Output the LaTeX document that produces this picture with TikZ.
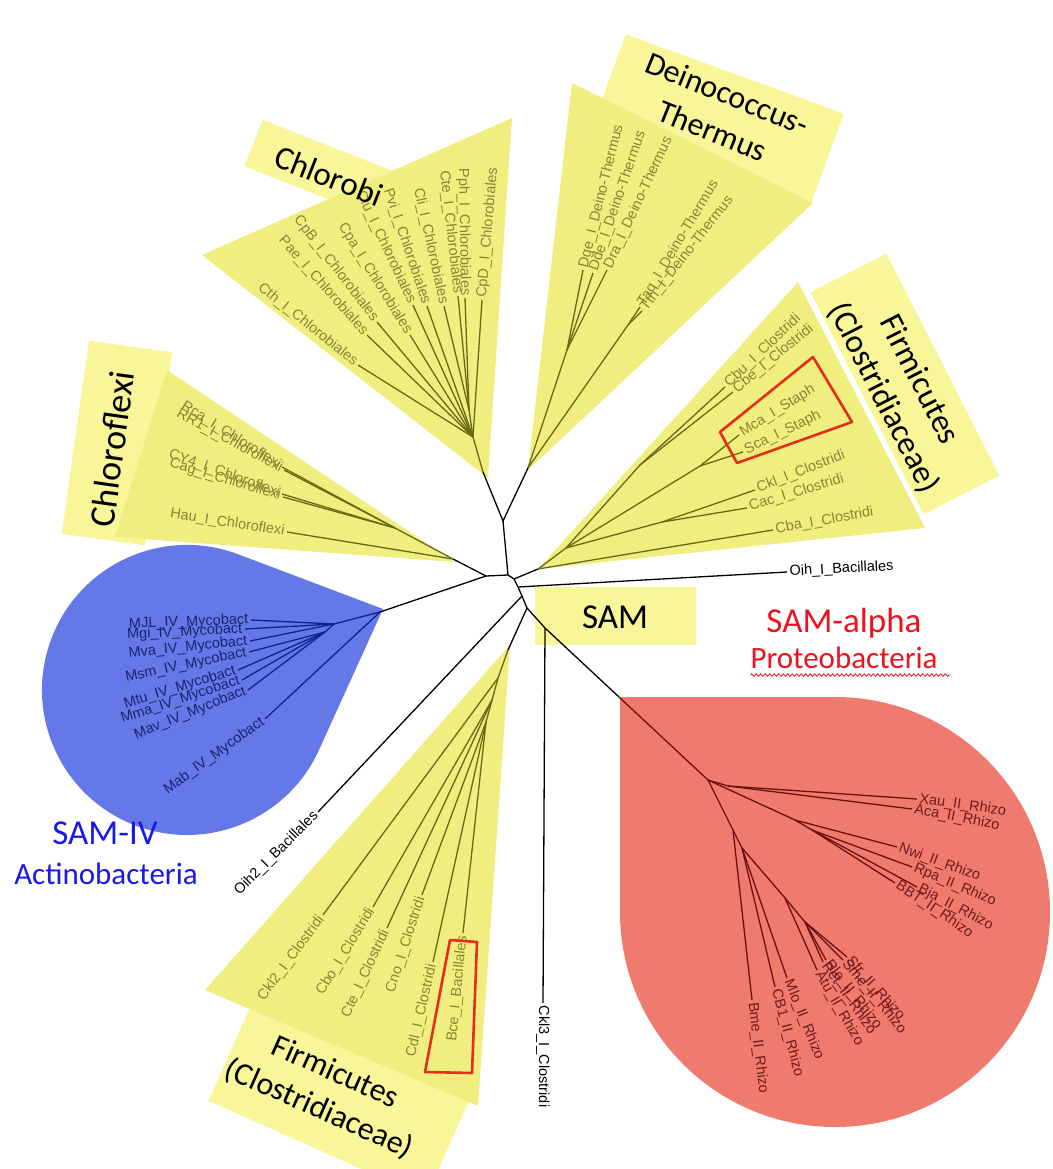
\documentclass[tikz,border=0pt]{standalone}
\usepackage{fontspec}
\setmainfont{Carlito}
\newfontfamily\leaffont{Liberation Sans}
\usetikzlibrary{decorations.pathmorphing}
\definecolor{fanY}{RGB}{241,238,128}
\definecolor{boxY}{RGB}{248,246,152}
\definecolor{oliveLn}{RGB}{105,105,20}
\definecolor{oliveTx}{RGB}{135,135,50}
\definecolor{blueF}{RGB}{100,120,232}
\definecolor{blueLn}{RGB}{15,35,140}
\definecolor{blueTx}{RGB}{25,35,110}
\definecolor{redF}{RGB}{239,122,110}
\definecolor{redLn}{RGB}{110,15,15}
\definecolor{redTx}{RGB}{115,25,25}
\definecolor{samBlue}{RGB}{25,25,235}
\definecolor{samRed}{RGB}{235,20,30}
\definecolor{hlRed}{RGB}{230,45,25}
\tikzset{
  lnk/.style={line width=1.3pt, draw=black},
  lbl/.style={font=\leaffont\fontsize{14.5}{16}\selectfont, inner sep=2.5pt, text=black},
  ybox/.style={fill=boxY, draw=none, inner sep=0pt},
  fanshape/.style={fill=fanY, draw=none},
  bigtxt/.style={align=center, inner sep=0pt, text=black},
  hlbox/.style={draw=hlRed, line width=2.6pt, line join=round},
}
\newcommand\tleaf[6]{\coordinate (#1) at (#2); \draw[lnk] (#3) -- (#1); \node[lbl, anchor=#4, rotate=#5] (t#1) at (#1) {#6};}
\begin{document}
\begin{tikzpicture}[x=1pt,y=-1pt]
\useasboundingbox (0,0) rectangle (1052,1169);
\clip (0,0) rectangle (1052,1169);
\fill[white] (0,0) rectangle (1052,1169);

% ---- label boxes ----
\node[ybox, minimum width=158pt, minimum height=50pt, rotate=-21.5] (bxChlorobi) at (327,172) {};
\node[ybox, minimum width=232pt, minimum height=98pt, rotate=-20] (bxDeino) at (718,120) {};
\node[ybox, minimum width=249pt, minimum height=85pt, rotate=-63] (bxFirmR) at (905,384) {};
\node[ybox, minimum width=195pt, minimum height=84pt, rotate=82] (bxChloroflexi) at (117,443) {};
\node[ybox, minimum width=161pt, minimum height=58pt] (bxSAM) at (615,616) {};
\node[ybox, minimum width=238pt, minimum height=112pt, rotate=-24] (bxFirmB) at (340,1098) {};

% ---- fans ----
\fill[fanshape] (202,255) -- (512,118) -- (488,478) -- cycle;
\fill[fanshape] (572,83) -- (813,203) -- (528,470) -- cycle;
\fill[fanshape] (538,569) -- (798,282) -- (925,528) -- cycle;
\fill[fanshape] (167,370) -- (115,537) -- (455,562) -- cycle;
\fill[fanshape] (510,645) -- (205,990) -- (478,1106) -- cycle;

% ---- blue and red clades ----
\fill[blueF] (383,609) -- (238.2,554.3) arc[start angle=-69.32, end angle=-335.58, radius=145] -- cycle;
\fill[redF] (620,697) -- (835,697) arc[start angle=-90, end angle=180, radius=215] -- cycle;

% ---- backbone ----
\coordinate (NT) at (503,521);
\coordinate (CB) at (483,472);
\coordinate (DB) at (528,468);
\coordinate (C0) at (508,575);
\coordinate (NL) at (486,576);
\coordinate (FX) at (453,559);
\coordinate (BN0) at (380,612);
\coordinate (C1) at (514,579);
\coordinate (FR0) at (538,569);
\coordinate (C2) at (518,587);
\coordinate (C3) at (522,596);
\coordinate (C4) at (527,608);
\coordinate (FB) at (508,650);
\coordinate (K3) at (545,628);
\coordinate (RE) at (619,697);
\coordinate (R0) at (708,780);
\draw[lnk] (CB) -- (NT) -- (DB);
\draw[lnk] (NT) -- (C0) -- (NL) -- (FX);
\draw[lnk] (NL) -- (BN0);
\draw[lnk] (C0) -- (C1) -- (C2) -- (C3) -- (C4) -- (K3) -- (RE);
\draw[lnk] (C1) -- (FR0);
\draw[lnk] (C4) -- (FB);
\draw[lnk, draw=redLn] (RE) -- (R0);

\tleaf{Oih}{787,572}{C2}{west}{3}{Oih\_I\_Bacillales}
\tleaf{Oih2}{318,812}{C3}{east}{45}{Oih2\_I\_Bacillales}
\tleaf{Ckl3}{543,1003}{K3}{west}{-90}{Ckl3\_I\_Clostridi}

% ---- yellow clades ----
\begin{scope}[lnk/.append style={draw=oliveLn}, lbl/.append style={text=oliveTx}]
% Chlorobi
\coordinate (Cn1) at (473,437);
\coordinate (Cn2) at (469,410);
\draw[lnk] (CB) -- (Cn1) -- (Cn2);
\tleaf{hCth}{358,365}{Cn1}{east}{-38.7}{Cth\_I\_Chlorobiales}
\tleaf{hPae}{367,335}{Cn1}{east}{-48.4}{Pae\_I\_Chlorobiales}
\tleaf{hCpB}{377,322}{Cn1}{east}{-52.4}{CpB\_I\_Chlorobiales}
\tleaf{hCpa}{410,335}{Cn1}{east}{-58.2}{Cpa\_I\_Chlorobiales}
\tleaf{hClu}{413,305}{Cn1}{east}{-64.7}{Clu\_I\_Chlorobiales}
\tleaf{hPvi}{427,306}{Cn1}{east}{-71.3}{Pvi\_I\_Chlorobiales}
\tleaf{hCli}{444,306}{Cn2}{east}{-77.5}{Cli\_I\_Chlorobiales}
\tleaf{hCte}{458,296}{Cn2}{east}{-83.6}{Cte\_I\_Chlorobiales}
\tleaf{hPph}{465,298}{Cn2}{east}{-89}{Pph\_I\_Chlorobiales}
\tleaf{hCpD}{482,300}{Cn1}{west}{85}{CpD\_I\_Chlorobiales}
% Deinococcus-Thermus
\coordinate (Dn1) at (567,350);
\coordinate (Dn2) at (628,325);
\draw[lnk] (DB) -- (Dn1);
\draw[lnk] (DB) -- (Dn2);
\tleaf{dDge}{583,270}{Dn1}{west}{76}{Dge\_I\_Deino-Thermus}
\tleaf{dDde}{593,273}{Dn1}{west}{71}{Dde\_I\_Deino-Thermus}
\tleaf{dDra}{607,270}{Dn1}{west}{65}{Dra\_I\_Deino-Thermus}
\tleaf{dTaq}{640,307}{Dn2}{west}{59}{Taq\_I\_Deino-Thermus}
\tleaf{dTth}{642,311}{Dn2}{west}{52}{Tth\_I\_Deino-Thermus}
% Firmicutes right
\coordinate (Fa) at (566,548);
\coordinate (Fb) at (640,465);
\coordinate (Fs) at (700,466);
\coordinate (Fk) at (662,522);
\draw[lnk] (FR0) -- (Fa) -- (Fb);
\draw[lnk] (Fa) -- (Fs);
\draw[lnk] (Fa) -- (Fk);
\tleaf{rCbu}{725,387}{Fb}{west}{43.7}{Cbu\_I\_Clostridi}
\tleaf{rCbe}{733,392}{Fb}{west}{39.5}{Cbe\_I\_Clostridi}
\tleaf{rMca}{739,435}{Fs}{west}{32}{Mca\_I\_Staph}
\tleaf{rSca}{743,452}{Fs}{west}{26}{Sca\_I\_Staph}
\tleaf{rCkl}{755,490}{Fk}{west}{21.4}{Ckl\_I\_Clostridi}
\tleaf{rCac}{747,508}{Fk}{west}{17}{Cac\_I\_Clostridi}
\tleaf{rCba}{773,530}{FR0}{west}{10.2}{Cba\_I\_Clostridi}
% Chloroflexi
\coordinate (Xn) at (395,528);
\draw[lnk] (FX) -- (Xn);
\tleaf{xRca}{282,467}{Xn}{east}{-32}{Rca\_I\_Chloroflexi}
\tleaf{xRR1}{284,470}{Xn}{east}{-28}{RR1\_I\_Chloroflexi}
\tleaf{xCY4}{282,494}{Xn}{east}{-19.6}{CY4\_I\_Chloroflexi}
\tleaf{xCag}{283,497}{Xn}{east}{-16.7}{Cag\_I\_Chloroflexi}
\tleaf{xHau}{287,532}{FX}{east}{-8.7}{Hau\_I\_Chloroflexi}
% Firmicutes bottom
\coordinate (Bn1) at (498,678);
\coordinate (Bn2) at (492,700);
\coordinate (Bn3) at (486,722);
\draw[lnk] (FB) -- (Bn1) -- (Bn2) -- (Bn3);
\tleaf{fCkl2}{323,915}{Bn1}{east}{53.5}{Ckl2\_I\_Clostridi}
\tleaf{fCbo}{373,907}{Bn2}{east}{58.6}{Cbo\_I\_Clostridi}
\tleaf{fCte}{387,928}{Bn2}{east}{65}{Cte\_I\_Clostridi}
\tleaf{fCno}{422,895}{Bn3}{east}{72}{Cno\_I\_Clostridi}
\tleaf{fCdl}{433,962}{Bn3}{east}{77}{Cdl\_I\_Clostridi}
\tleaf{fBce}{463,933}{Bn3}{east}{84.4}{Bce\_I\_Bacillales}
\end{scope}

% ---- blue clade ----
\begin{scope}[lnk/.append style={draw=blueLn}, lbl/.append style={text=blueTx}]
\coordinate (BN1) at (334,624);
\coordinate (BN2) at (325,632);
\draw[lnk] (BN0) -- (BN1) -- (BN2);
\tleaf{bMJL}{251,620}{BN1}{east}{2}{MJL\_IV\_Mycobact}
\tleaf{bMgi}{245,629}{BN1}{east}{3}{Mgi\_IV\_Mycobact}
\tleaf{bMva}{250,641}{BN1}{east}{6}{Mva\_IV\_Mycobact}
\tleaf{bMsm}{249,652}{BN2}{east}{12}{Msm\_IV\_Mycobact}
\tleaf{bMtu}{238,670}{BN2}{east}{17}{Mtu\_IV\_Mycobact}
\tleaf{bMma}{242,680}{BN2}{east}{18}{Mma\_IV\_Mycobact}
\tleaf{bMav}{248,690}{BN2}{east}{22}{Mav\_IV\_Mycobact}
\tleaf{bMab}{265,719}{BN0}{east}{36}{Mab\_IV\_Mycobact}
\end{scope}

% ---- red clade ----
\begin{scope}[lnk/.append style={draw=redLn}, lbl/.append style={text=redTx}]
\coordinate (Rxa) at (728,786);
\coordinate (RN) at (795,820);
\coordinate (RN2) at (812,830);
\coordinate (RL) at (733,830);
\coordinate (RL2) at (742,848);
\coordinate (RL3) at (785,898);
\coordinate (RL4) at (805,922);
\draw[lnk] (R0) -- (Rxa);
\draw[lnk] (R0) -- (RN) -- (RN2);
\draw[lnk] (R0) -- (RL) -- (RL2) -- (RL3) -- (RL4);
\tleaf{pXau}{917,799}{Rxa}{west}{-8}{Xau\_II\_Rhizo}
\tleaf{pAca}{912,809}{Rxa}{west}{-11}{Aca\_II\_Rhizo}
\tleaf{pNwi}{897,847}{RN}{west}{-20}{Nwi\_II\_Rhizo}
\tleaf{pRpa}{912,867}{RN2}{west}{-23}{Rpa\_II\_Rhizo}
\tleaf{pBja}{917,887}{RN2}{west}{-28}{Bja\_II\_Rhizo}
\tleaf{pBBT}{895,883}{RN2}{west}{-34}{BBT\_II\_Rhizo}
\tleaf{pSfr}{847,957}{RL4}{west}{-48}{Sfr\_II\_Rhizo}
\tleaf{pSme}{843,960}{RL4}{west}{-50}{Sme\_II\_Rhizo}
\tleaf{pRle}{826,960}{RL4}{west}{-52}{Rle\_II\_Rhizo}
\tleaf{pRet}{823,962}{RL4}{west}{-55}{Ret\_II\_Rhizo}
\tleaf{pAtu}{817,970}{RL3}{west}{-60}{Atu\_II\_Rhizo}
\tleaf{pMlo}{787,978}{RL2}{west}{-68}{Mlo\_II\_Rhizo}
\tleaf{pCB1}{775,987}{RL2}{west}{-75}{CB1\_II\_Rhizo}
\tleaf{pBme}{752,1000}{RL}{west}{-83}{Bme\_II\_Rhizo}
\end{scope}

% ---- highlight boxes ----
\draw[hlbox] (720,432) -- (813,357) -- (852,422) -- (737,463) -- cycle;
\draw[hlbox] (450,940) -- (477,942) -- (472,1073) -- (425,1072) -- cycle;

% ---- big labels ----
\node[bigtxt, font=\fontsize{33}{38}\selectfont, rotate=-21.5] (tChlorobi) at (329,176) {Chlorobi};
\node[bigtxt, font=\fontsize{32}{40}\selectfont, rotate=-22] (tDeino) at (720,112) {Deinococcus-\\Thermus};
\node[bigtxt, font=\fontsize{33}{40}\selectfont, rotate=-63] (tFirmR) at (901,389) {Firmicutes\\(Clostridiaceae)};
\node[bigtxt, font=\fontsize{36}{40}\selectfont, rotate=82] (tChloroflexi) at (112,449) {Chloroflexi};
\node[bigtxt, font=\fontsize{35}{40}\selectfont] (tSAM) at (615,617) {SAM};
\node[bigtxt, font=\fontsize{32}{40}\selectfont, rotate=-24] (tFirmB) at (327,1091) {Firmicutes\\(Clostridiaceae)};
\node[bigtxt, font=\fontsize{35}{40}\selectfont, text=samRed] (tSAMa) at (844,623) {SAM-alpha};
\node[bigtxt, font=\fontsize{31}{36}\selectfont, text=samRed] (tProteo) at (844,658) {Proteobacteria};
\draw[samRed, line width=0.8pt, decorate, decoration={snake, amplitude=1.3pt, segment length=4.5pt}] (tProteo.south west) ++(0,6) -- ++(200,0);
\node[bigtxt, font=\fontsize{35}{40}\selectfont, text=samBlue] (tSAMIV) at (105,833) {SAM-IV};
\node[bigtxt, font=\fontsize{31}{36}\selectfont, text=samBlue] (tActino) at (106,874) {Actinobacteria};
\end{tikzpicture}
\end{document}
